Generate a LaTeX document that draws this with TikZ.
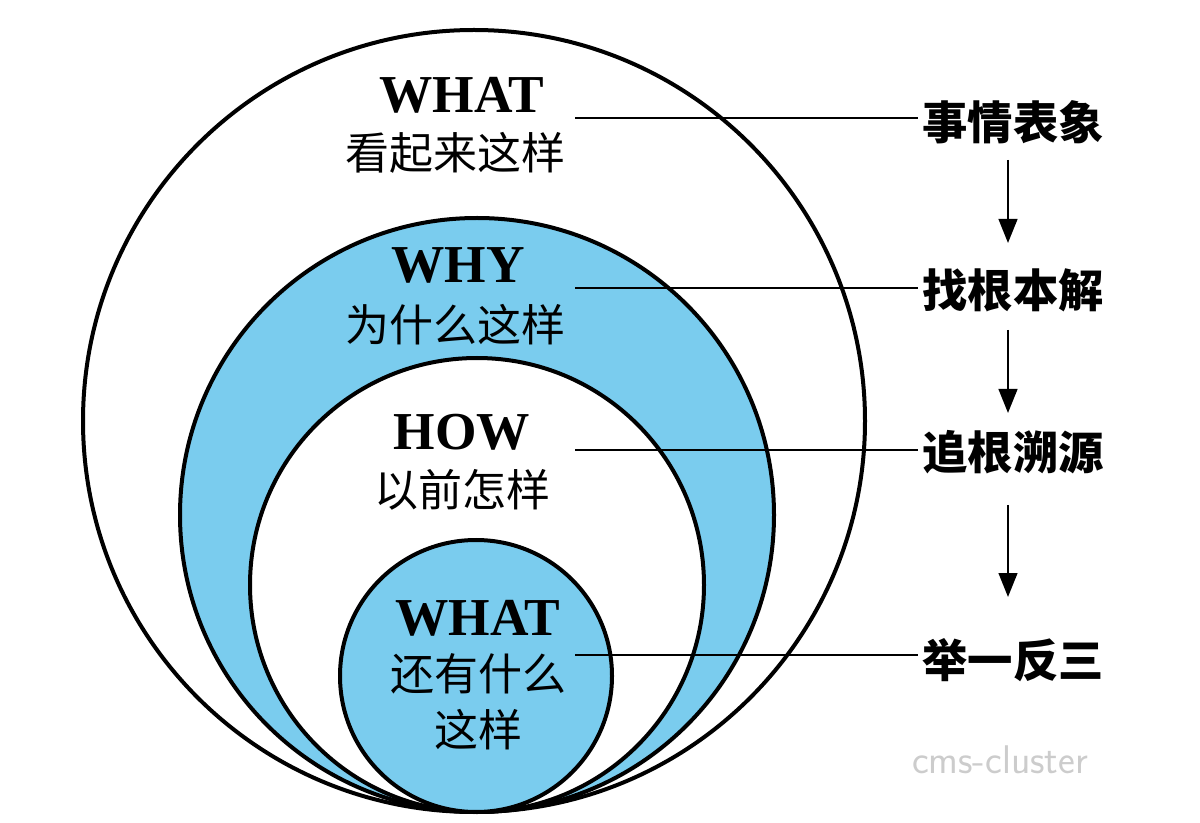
\documentclass[tikz,border=0pt]{standalone}
\usepackage{fontspec}
\setmainfont{Liberation Serif}
\newfontfamily\cjk{Noto Sans CJK SC}
\usetikzlibrary{arrows.meta}
\definecolor{skyb}{RGB}{122,204,238}
\tikzset{
  ring/.style={draw=black,line width=3pt},
  en/.style={font=\fontsize{40}{40}\selectfont\bfseries},
  zh/.style={font=\fontsize{33}{33}\selectfont\cjk},
  lab/.style={font=\fontsize{34}{34}\selectfont\cjk\bfseries},
  lead/.style={line width=1.8pt},
  arr/.style={line width=1.8pt,-{Triangle[length=18pt,width=14pt]}}
}
\begin{document}
\begin{tikzpicture}[x=0.75pt,y=-0.75pt]
\useasboundingbox[fill=white] (0,0) rectangle (1200,823);
\fill[white,ring] (474,421) circle (391);
\fill[skyb,ring] (477,515) circle (297);
\fill[white,ring] (477,585) circle (227);
\fill[skyb,ring] (476,676) circle (136);
\node[en] (w1) at (462,95) {WHAT};
\node[zh] (z1) at (455,153) {看起来这样};
\node[en] (w2) at (458,265) {WHY};
\node[zh] (z2) at (455,325) {为什么这样};
\node[en] (w3) at (462,432) {HOW};
\node[zh] (z3) at (462,490) {以前怎样};
\node[en] (w4) at (478,618) {WHAT};
\node[zh] (z4) at (478,674) {还有什么};
\node[zh] (z5) at (478,730) {这样};
\node[lab] (r1) at (1013,122) {事情表象};
\node[lab] (r2) at (1013,290) {找根本解};
\node[lab] (r3) at (1013,452) {追根溯源};
\node[lab] (r4) at (1013,660) {举一反三};
\coordinate (a1) at (575,118); \coordinate (a2) at (575,288);
\coordinate (a3) at (575,450); \coordinate (a4) at (575,655);
\draw[lead] (a1) -- (a1 -| r1.west);
\draw[lead] (a2) -- (a2 -| r2.west);
\draw[lead] (a3) -- (a3 -| r3.west);
\draw[lead] (a4) -- (a4 -| r4.west);
\draw[arr] (1008,160) -- (1008,243);
\draw[arr] (1008,330) -- (1008,413);
\draw[arr] (1008,505) -- (1008,597);
\node[font=\fontsize{30}{30}\selectfont\sffamily,text=black!20] (wm) at (1000,760) {cms-cluster};
\end{tikzpicture}
\end{document}
